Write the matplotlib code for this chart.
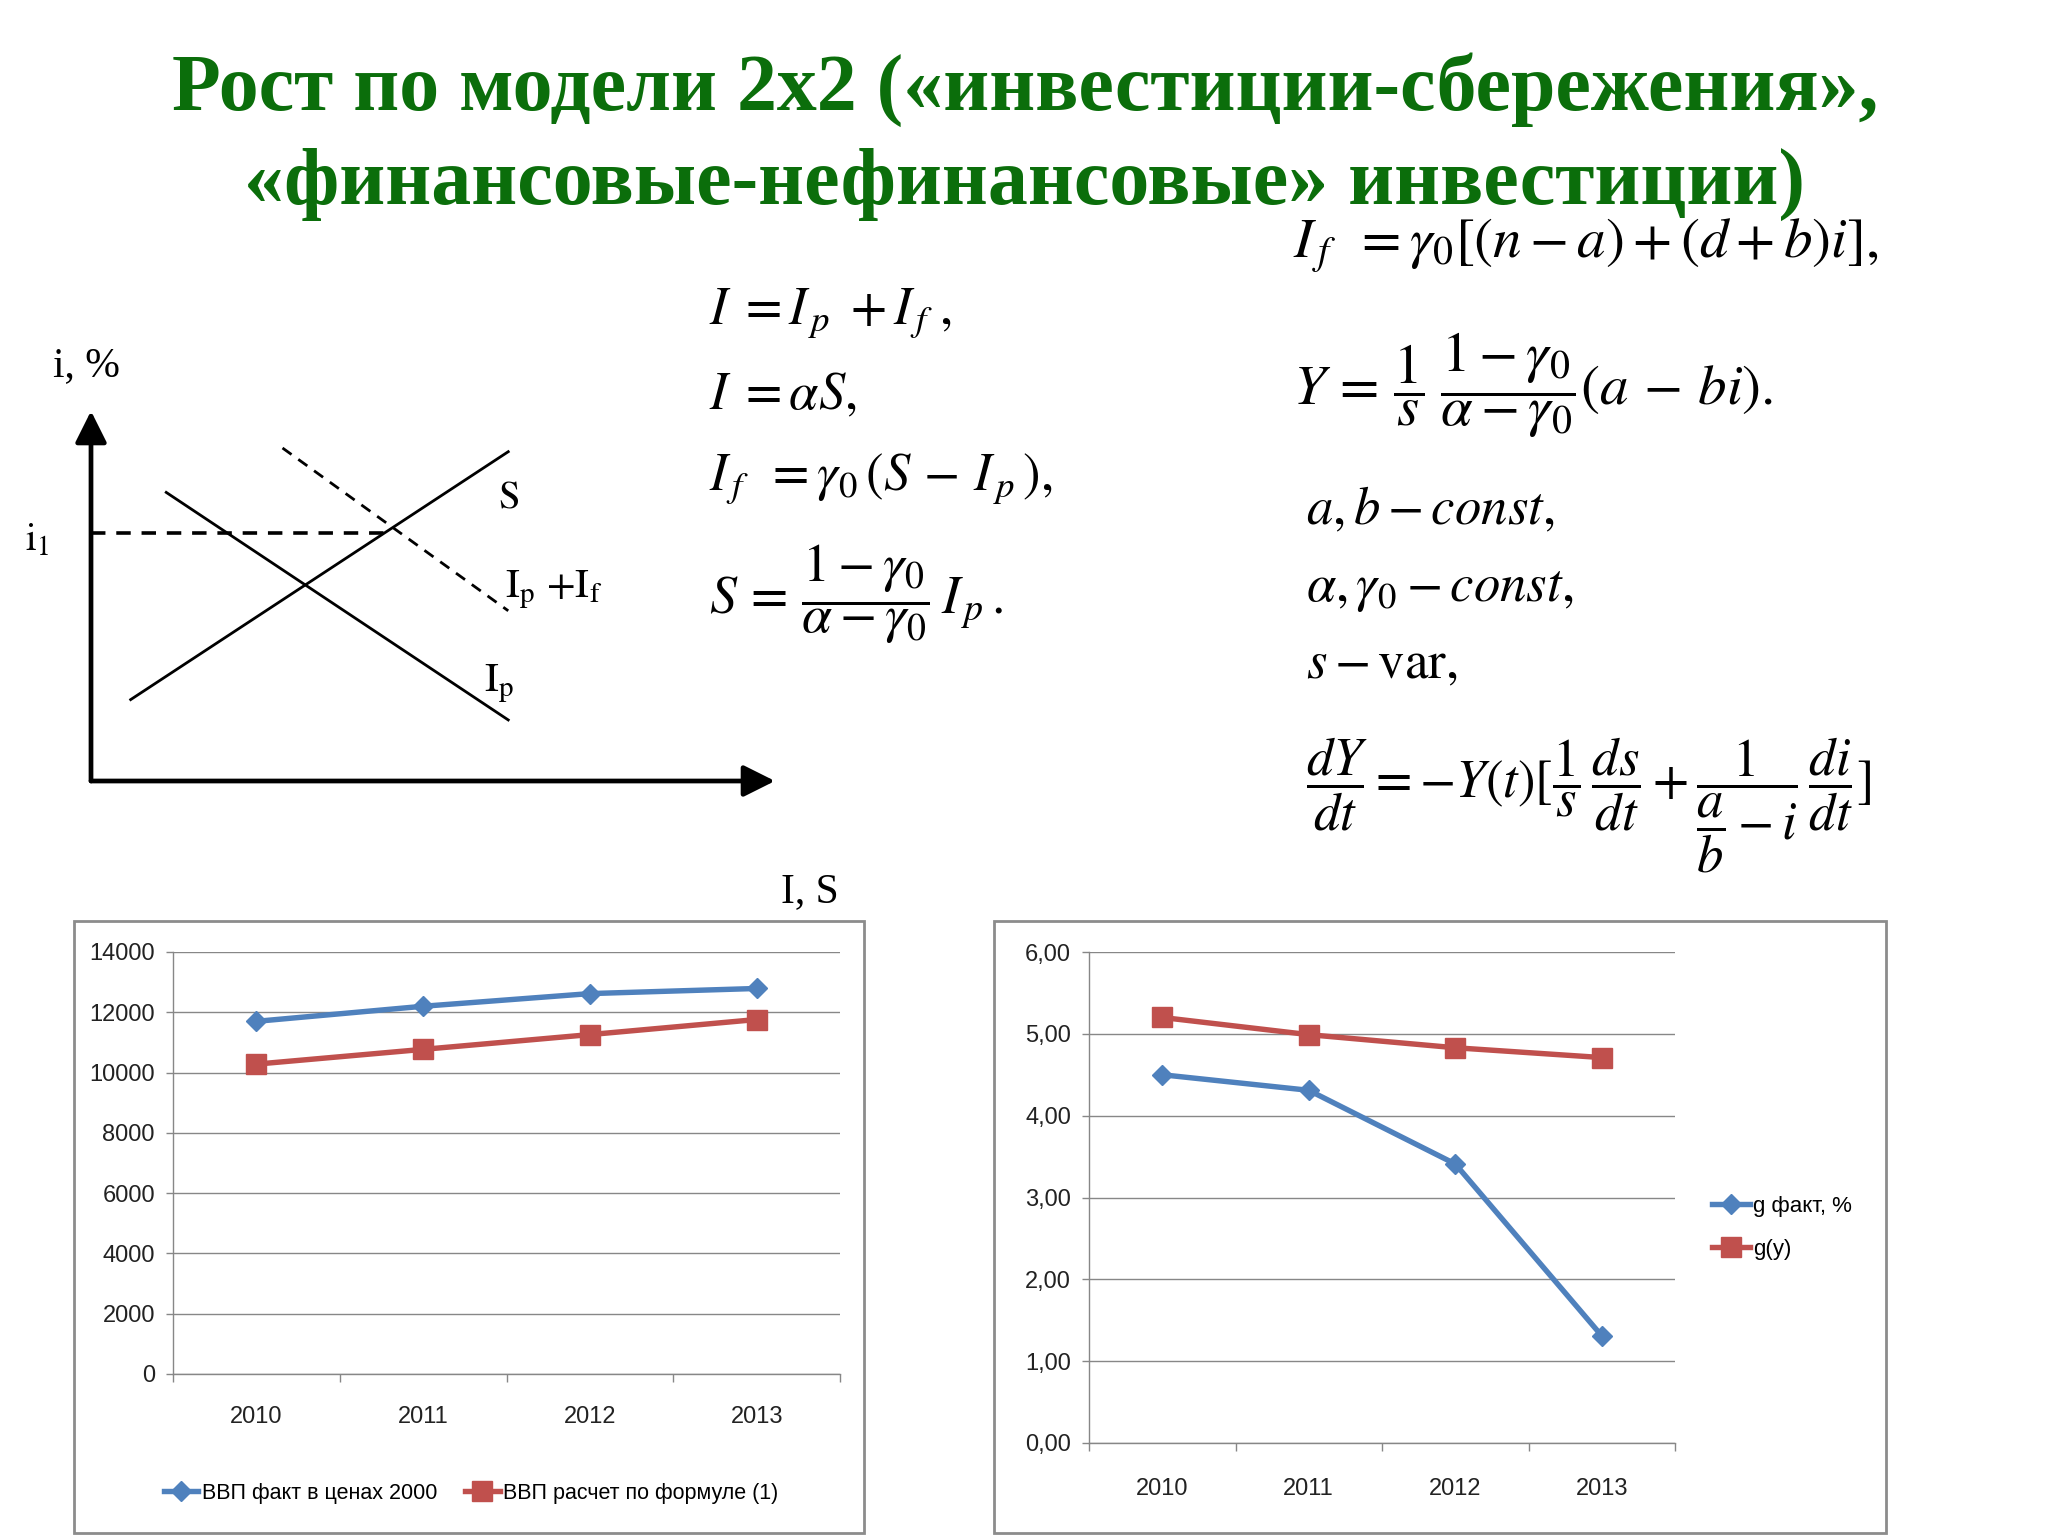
import matplotlib
matplotlib.use("Agg")
import matplotlib.pyplot as plt
from matplotlib.patches import Rectangle
from matplotlib.ticker import FuncFormatter, FixedLocator

plt.rcParams['mathtext.fontset'] = 'stix'

# ---------------- data ----------------
years = ['2010', '2011', '2012', '2013']
gdp_fact = [11700, 12200, 12620, 12790]
gdp_calc = [10280, 10770, 11260, 11760]
gdp_fact_label = 'ВВП факт в ценах 2000'
gdp_calc_label = 'ВВП расчет по формуле (1)'

g_fact = [4.50, 4.31, 3.41, 1.31]
g_y = [5.20, 4.99, 4.83, 4.71]
g_fact_label = 'g факт, %'
g_y_label = 'g(y)'

left_yticks = [0, 2000, 4000, 6000, 8000, 10000, 12000, 14000]
right_yticks = [0, 1, 2, 3, 4, 5, 6]

title_lines = ['Рост по модели 2х2 («инвестиции-сбережения»,',
               '«финансовые-нефинансовые» инвестиции)']

# schematic diagram (quantity, rate) in arbitrary units
diag_S_x = [0.58, 6.1]
diag_S_y = [2.2, 8.9]
diag_Ip_x = [1.1, 6.1]
diag_Ip_y = [7.8, 1.65]
diag_IpIf_x = [2.8, 6.1]
diag_IpIf_y = [9.0, 4.6]
diag_i1 = 6.7
diag_i1_xend = 4.4

# ---------------- layout helpers ----------------
W, H = 2048, 1536
fig = plt.figure(figsize=(W / 100, H / 100), dpi=100)
fig.patch.set_facecolor('white')


def rect(x0, y0, x1, y1):
    return [x0 / W, 1 - y1 / H, (x1 - x0) / W, (y1 - y0) / H]


def fx(x):
    return x / W


def fy(y):
    return 1 - y / H


BLUE = '#4F81BD'
RED = '#C0504D'
GRID = '#878787'
GREEN = '#0b6e0b'
CHART_FONT = ['Liberation Sans Narrow', 'Liberation Sans', 'DejaVu Sans']
SERIF = ['Liberation Serif', 'DejaVu Serif']

# ---------------- title ----------------
fig.text(fx(1025), fy(90), title_lines[0], ha='center', va='center',
         fontsize=57.5, fontweight='bold', color=GREEN, family=SERIF)
fig.text(fx(1025), fy(184), title_lines[1], ha='center', va='center',
         fontsize=57.5, fontweight='bold', color=GREEN, family=SERIF)

# ---------------- schematic diagram ----------------
dax = fig.add_axes(rect(91, 411, 775, 781))
dax.set_xlim(0, 10)
dax.set_ylim(0, 10)
dax.axis('off')
arrow_kw = dict(arrowstyle='-|>', lw=3.4, color='black', mutation_scale=48,
                shrinkA=0, shrinkB=0)
dax.annotate('', xy=(0, 10), xytext=(0, 0), xycoords='data', arrowprops=arrow_kw)
dax.annotate('', xy=(10, 0), xytext=(0, 0), xycoords='data', arrowprops=arrow_kw)
dax.plot(diag_S_x, diag_S_y, color='black', lw=2.0)
dax.plot(diag_Ip_x, diag_Ip_y, color='black', lw=2.0)
dax.plot(diag_IpIf_x, diag_IpIf_y, color='black', lw=2.0, ls=(0, (4, 3)))
dax.plot([0, diag_i1_xend], [diag_i1, diag_i1], color='black', lw=2.6, ls=(0, (4, 3)))

fig.text(fx(86), fy(366), 'i, %', ha='center', va='center', fontsize=30, family=SERIF)
fig.text(fx(37), fy(540), r'$\mathrm{i}_{1}$', ha='center', va='center', fontsize=28)
fig.text(fx(498), fy(496), r'$\mathrm{S}$', ha='left', va='center', fontsize=28)
fig.text(fx(505), fy(590), r'$\mathrm{I}_{\mathrm{p}}\ \mathrm{+I}_{\mathrm{f}}$',
         ha='left', va='center', fontsize=30)
fig.text(fx(484), fy(684), r'$\mathrm{I}_{\mathrm{p}}$', ha='left', va='center', fontsize=30)

# ---------------- formulas ----------------
FS = 38
fig.text(fx(709), fy(313), r'$I\; = I_{\,p}\; + I_{\,f}\;,$', ha='left', va='center', fontsize=FS)
fig.text(fx(709), fy(394), r'$I\; = \alpha S,$', ha='left', va='center', fontsize=FS)
fig.text(fx(709), fy(479), r'$I_{\,f}\;\; = \gamma_0\,(S\, -\, I_{\,p}\,),$', ha='left', va='center', fontsize=FS)
fig.text(fx(709), fy(594), r'$S\, =\, \dfrac{1-\gamma_0}{\alpha-\gamma_0}\,I_{\,p}\,.$',
         ha='left', va='center', fontsize=FS + 1)

fig.text(fx(1293), fy(246), r'$I_{\,f}\;\; = \gamma_0[(n-a)+(d+b)i],$', ha='left', va='center', fontsize=FS + 3)
fig.text(fx(1293), fy(385), r'$Y\, =\, \dfrac{1}{s}\;\dfrac{1-\gamma_0}{\alpha-\gamma_0}(a\, -\, bi).$',
         ha='left', va='center', fontsize=FS + 3)
fig.text(fx(1306), fy(509), r'$a, b - const,$', ha='left', va='center', fontsize=FS)
fig.text(fx(1306), fy(588), r'$\alpha, \gamma_{0} - const,$', ha='left', va='center', fontsize=FS)
fig.text(fx(1306), fy(663), r'$s - \mathrm{var},$', ha='left', va='center', fontsize=FS)
fig.text(fx(1306), fy(805),
         r'$\dfrac{dY}{dt} = -Y(t)[\dfrac{1}{s}\,\dfrac{ds}{dt} + \dfrac{1}{\dfrac{a}{b} - i}\,\dfrac{di}{dt}]$',
         ha='left', va='center', fontsize=FS)

fig.text(fx(781), fy(892), 'I, S', ha='left', va='center', fontsize=30, family=SERIF)

# ---------------- chart frames ----------------
for x0, x1 in [(74, 864), (994, 1886)]:
    fig.patches.append(Rectangle((fx(x0), fy(1533)), (x1 - x0) / W, (1533 - 921) / H,
                                 transform=fig.transFigure, fill=False,
                                 edgecolor='#8c8c8c', lw=2.0))


def style_chart(ax, ymax, yticks, fmt, pad):
    ax.set_xlim(0, len(years))
    ax.set_ylim(0, ymax)
    ax.set_yticks(yticks)
    ax.yaxis.set_major_formatter(FuncFormatter(fmt))
    ax.xaxis.set_major_locator(FixedLocator([i + 0.5 for i in range(len(years))]))
    ax.set_xticklabels(years)
    ax.xaxis.set_minor_locator(FixedLocator(list(range(len(years) + 1))))
    ax.tick_params(axis='x', which='major', length=0, pad=pad, labelsize=17, labelcolor='#222222')
    ax.tick_params(axis='x', which='minor', length=6, width=1, color=GRID, direction='out')
    ax.tick_params(axis='y', length=5, width=1, color=GRID, labelsize=17, labelcolor='#222222', pad=8)
    for lab in ax.get_xticklabels() + ax.get_yticklabels():
        lab.set_family(CHART_FONT)
    ax.grid(axis='y', color=GRID, lw=1.0)
    ax.set_axisbelow(True)
    for s in ['top', 'right']:
        ax.spines[s].set_visible(False)
    for s in ['left', 'bottom']:
        ax.spines[s].set_color(GRID)
        ax.spines[s].set_linewidth(1.0)
    ax.set_facecolor('none')


xs = [i + 0.5 for i in range(len(years))]

# left chart
ax1 = fig.add_axes(rect(173, 952, 840, 1374))
l1, = ax1.plot(xs, gdp_fact, color=BLUE, lw=3.9, marker='D', ms=10.5, label=gdp_fact_label)
l2, = ax1.plot(xs, gdp_calc, color=RED, lw=3.9, marker='s', ms=14.5, label=gdp_calc_label)
style_chart(ax1, 14000, left_yticks, lambda v, p: f'{int(v)}', 23)
leg1 = fig.legend(handles=[l1, l2], loc='center', bbox_to_anchor=(fx(471), fy(1493)),
                  ncol=2, frameon=False, handlelength=1.6, handletextpad=0.15,
                  columnspacing=1.3, prop={'family': CHART_FONT, 'size': 15.5})

# right chart
ax2 = fig.add_axes(rect(1089, 952, 1675, 1443))
r1, = ax2.plot(xs, g_fact, color=BLUE, lw=3.9, marker='D', ms=10.5, label=g_fact_label)
r2, = ax2.plot(xs, g_y, color=RED, lw=3.9, marker='s', ms=14.5, label=g_y_label)
style_chart(ax2, 6, right_yticks, lambda v, p: f'{v:.2f}'.replace('.', ','), 25)
leg2 = fig.legend(handles=[r1, r2], loc='center left', bbox_to_anchor=(fx(1692), fy(1228)),
                  ncol=1, frameon=False, handlelength=1.7, handletextpad=0.15,
                  labelspacing=1.0, prop={'family': CHART_FONT, 'size': 16})

fig.savefig('out.png', dpi=100, facecolor='white')
